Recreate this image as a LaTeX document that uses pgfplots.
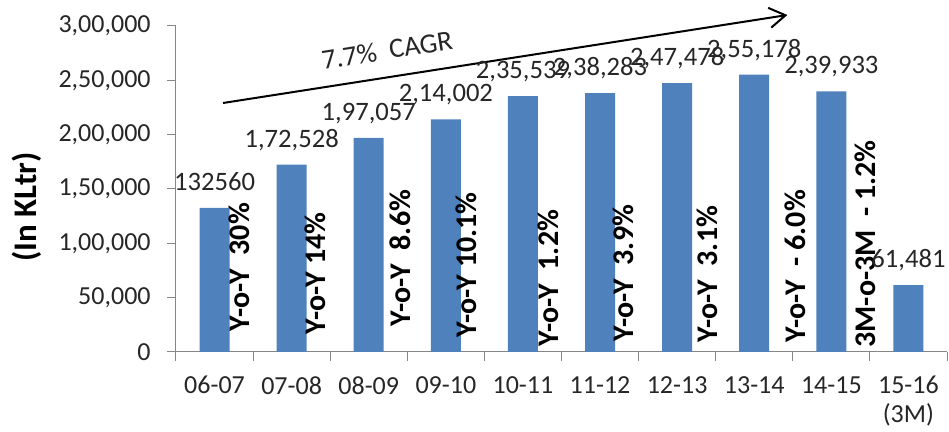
\documentclass[border=0pt]{standalone}
\usepackage{fontspec}
\setmainfont{Carlito}
\usepackage{pgfplots}
\pgfplotsset{compat=1.18}
\usetikzlibrary{arrows.meta}
\definecolor{barblue}{HTML}{4F81BD}
\definecolor{axgray}{HTML}{868686}
\definecolor{txt}{HTML}{262626}
\begin{document}
\begin{tikzpicture}
\path[use as bounding box] (-88pt,-40pt) rectangle (386.5pt,176pt);
\begin{axis}[
  scale only axis, width=385.5pt, height=163pt,
  at={(0,0)}, anchor=south west,
  xmin=-0.5, xmax=9.5, ymin=0, ymax=300000,
  axis lines*=left,
  axis line style={axgray, line width=0.5pt},
  tick style={axgray, line width=0.5pt},
  tick align=outside, major tick length=4.5pt,
  xtick={-0.5,0.5,...,9.5},
  x tick label as interval,
  xticklabels={06-07,07-08,08-09,09-10,10-11,11-12,12-13,13-14,14-15,{15-16\\(3M)}},
  xticklabel style={align=center, anchor=north, inner sep=0pt, yshift=-7.5pt, text=txt, font=\fontsize{13}{14.5}\selectfont},
  ytick={0,50000,100000,150000,200000,250000,300000},
  yticklabels={0,{50,000},{1,00,000},{1,50,000},{2,00,000},{2,50,000},{3,00,000}},
  scaled y ticks=false,
  yticklabel style={anchor=east, inner sep=0pt, xshift=-8pt, text=txt, font=\fontsize{13}{15}\selectfont},
  ylabel={(In KLtr)},
  ylabel style={at={(rel axis cs:-0.193,0.445)}, anchor=center, text=black, font=\bfseries\fontsize{16.5}{19}\selectfont},
  clip=false,
]
\addplot[ybar, bar width=15pt, fill=barblue, draw=none,
  nodes near coords, point meta=explicit symbolic,
  nodes near coords style={anchor=base, inner sep=0pt, yshift=8.75pt, text=txt, font=\fontsize{13.3}{15}\selectfont}]
  table[meta=lab] {
x y lab
0 132560 132560
1 172528 1,72,528
2 197057 1,97,057
3 214002 2,14,002
4 235539 2,35,539
5 238283 2,38,283
6 247478 2,47,478
7 255178 2,55,178
8 239933 2,39,933
9 61481 61,481
};
\begin{scope}[every node/.style={rotate=90, anchor=west, inner sep=0pt, text=black, font=\bfseries\fontsize{15}{18}\selectfont}]
\node at (axis cs:0.318,18405) {Y-o-Y~~30\%};
\node at (axis cs:1.304,15644) {Y-o-Y 14\%};
\node at (axis cs:2.406,23006) {Y-o-Y~~8.6\%};
\node at (axis cs:3.262,12883) {Y-o-Y 10.1\%};
\node at (axis cs:4.326,4601) {Y-o-Y~~1.2\%};
\node at (axis cs:5.298,9202) {Y-o-Y~~3.9\%};
\node at (axis cs:6.388,8282) {Y-o-Y~~3.1\%};
\node at (axis cs:7.529,8282) {Y-o-Y~~-~6.0\%};
\node at (axis cs:8.437,3681) {3M-o-3M~~-~1.2\%};
\end{scope}
\draw[line width=1pt, -{Straight Barb[length=8pt,width=10pt,line width=1pt]}] (axis cs:0.11,229141) -- (axis cs:7.43,310123);
\node[rotate=9, inner sep=0pt, text=txt, font=\fontsize{14}{16}\selectfont] at (axis cs:2.237,277916) {7.7\%~~CAGR};
\end{axis}
\end{tikzpicture}
\end{document}
